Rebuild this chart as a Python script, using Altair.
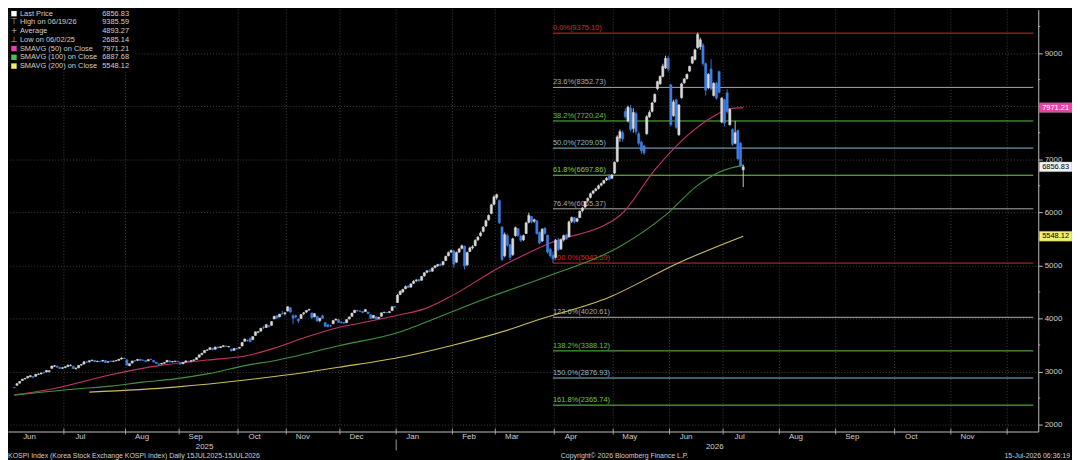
import altair as alt
import pandas as pd

FONT = "Liberation Sans"
BG = "#000000"
TXT = "#cfcfcf"
AXC = "#bdbdbd"
GRID = "#505050"
UP_COL = "#d9d9d9"
DOWN_COL = "#3e7fe4"

# ---------------- candles: (open, high, low, close) per trading day ----------------
JUN_2025 = [(2700, 2704, 2685.14, 2698), (2740, 2780, 2735, 2770), (2780, 2820, 2775, 2812),
            (2830, 2860, 2825, 2855), (2860, 2875, 2850, 2871), (2880, 2910, 2870, 2907),
            (2900, 2930, 2895, 2920), (2905, 2915, 2870, 2894), (2910, 2950, 2905, 2946),
            (2945, 2965, 2935, 2950), (2955, 2980, 2945, 2972), (2985, 2995, 2960, 2977),
            (2990, 3025, 2985, 3021), (3000, 3020, 2980, 3014), (3060, 3105, 3050, 3103),
            (3100, 3120, 3085, 3108), (3100, 3110, 3070, 3079), (3075, 3090, 3045, 3055),
            (3060, 3080, 3050, 3071)]
JUL_2025 = [(3075, 3100, 3060, 3089), (3090, 3135, 3085, 3116), (3110, 3135, 3100, 3116),
            (3100, 3105, 3050, 3054), (3050, 3080, 3040, 3059), (3070, 3120, 3060, 3114),
            (3120, 3140, 3110, 3133), (3140, 3190, 3135, 3183), (3180, 3200, 3165, 3175),
            (3180, 3210, 3170, 3202), (3205, 3220, 3195, 3215), (3210, 3215, 3180, 3187),
            (3185, 3205, 3180, 3192), (3195, 3200, 3175, 3188), (3195, 3215, 3190, 3210),
            (3205, 3210, 3160, 3170), (3175, 3195, 3170, 3184), (3195, 3205, 3180, 3190),
            (3190, 3205, 3180, 3196), (3200, 3215, 3195, 3209), (3210, 3235, 3205, 3230),
            (3235, 3266, 3225, 3254), (3250, 3265, 3235, 3245)]
AUG_2025 = [(3220, 3225, 3115, 3119), (3110, 3150, 3100, 3147), (3160, 3200, 3150, 3198),
            (3205, 3210, 3185, 3199), (3210, 3235, 3200, 3227), (3230, 3240, 3200, 3210),
            (3215, 3225, 3200, 3210), (3205, 3215, 3180, 3189), (3200, 3230, 3195, 3224),
            (3230, 3240, 3215, 3225), (3210, 3215, 3170, 3178), (3175, 3180, 3145, 3151),
            (3140, 3150, 3115, 3130), (3140, 3160, 3135, 3153), (3155, 3175, 3150, 3168),
            (3180, 3215, 3175, 3210), (3200, 3205, 3170, 3179), (3180, 3195, 3170, 3187),
            (3190, 3200, 3180, 3196), (3195, 3200, 3180, 3186)]
SEP_2025 = [(3170, 3175, 3135, 3142), (3145, 3175, 3140, 3172), (3180, 3205, 3170, 3200),
            (3195, 3200, 3175, 3184), (3190, 3210, 3185, 3205), (3210, 3225, 3200, 3219),
            (3225, 3265, 3220, 3260), (3270, 3320, 3265, 3314), (3320, 3350, 3305, 3344),
            (3355, 3400, 3350, 3395), (3400, 3415, 3390, 3407), (3415, 3450, 3410, 3449),
            (3440, 3445, 3400, 3413), (3420, 3465, 3415, 3461), (3460, 3470, 3435, 3445),
            (3450, 3470, 3440, 3468), (3470, 3490, 3460, 3486), (3480, 3485, 3460, 3472),
            (3465, 3480, 3455, 3471), (3420, 3430, 3380, 3386), (3400, 3440, 3395, 3431),
            (3435, 3445, 3415, 3424)]
OCT_2025 = [(3440, 3460, 3430, 3455), (3480, 3550, 3475, 3549), (3570, 3620, 3560, 3610),
            (3590, 3600, 3560, 3584), (3620, 3640, 3550, 3561), (3600, 3660, 3595, 3657),
            (3680, 3750, 3675, 3748), (3740, 3760, 3720, 3748), (3760, 3820, 3755, 3815),
            (3830, 3860, 3800, 3823), (3830, 3885, 3820, 3883), (3860, 3870, 3830, 3845),
            (3870, 3945, 3865, 3941), (3990, 4045, 3985, 4042), (4050, 4060, 3990, 4010),
            (4030, 4085, 4020, 4081), (4090, 4140, 4070, 4086), (4090, 4110, 4060, 4107)]
NOV_2025 = [(4140, 4226, 4130, 4221), (4200, 4210, 4100, 4121), (4050, 4080, 3890, 4004),
            (4050, 4070, 4000, 4026), (3990, 4000, 3910, 3953), (4000, 4080, 3990, 4073),
            (4090, 4120, 4060, 4106), (4120, 4155, 4100, 4150), (4160, 4180, 4140, 4170),
            (4100, 4110, 3990, 4011), (4030, 4100, 4020, 4089), (4040, 4050, 3940, 3953),
            (3960, 4010, 3930, 4004), (4050, 4070, 3990, 4004), (3920, 3930, 3840, 3853),
            (3880, 3890, 3830, 3846), (3860, 3880, 3840, 3857), (3900, 3965, 3895, 3960),
            (3970, 3995, 3960, 3986), (3975, 3985, 3915, 3926)]
DEC_2025 = [(3930, 3950, 3900, 3920), (3925, 3935, 3895, 3914), (3920, 3985, 3915, 3977),
            (3990, 4035, 3980, 4028), (4040, 4105, 4030, 4100), (4110, 4160, 4100, 4154),
            (4150, 4165, 4125, 4143), (4140, 4150, 4120, 4135), (4130, 4140, 4100, 4110),
            (4130, 4175, 4125, 4167), (4120, 4125, 4080, 4090), (4070, 4080, 3990, 3999),
            (4010, 4065, 4000, 4056), (4030, 4040, 3980, 3994), (4000, 4030, 3990, 4020),
            (4040, 4110, 4035, 4105), (4110, 4125, 4100, 4117), (4115, 4120, 4100, 4108),
            (4110, 4135, 4105, 4129), (4150, 4225, 4145, 4220), (4225, 4235, 4200, 4214)]
JAN_2026 = [(4300, 4460, 4290, 4440), (4450, 4530, 4440, 4510), (4500, 4560, 4480, 4545),
            (4560, 4620, 4550, 4600), (4610, 4630, 4570, 4585), (4590, 4660, 4580, 4650),
            (4660, 4720, 4650, 4700), (4710, 4740, 4690, 4725), (4730, 4745, 4690, 4705),
            (4720, 4800, 4710, 4790), (4800, 4870, 4790, 4860), (4870, 4910, 4850, 4895),
            (4900, 4930, 4870, 4885), (4890, 4960, 4880, 4950), (4960, 5000, 4940, 4990),
            (4990, 5030, 4970, 5015), (5020, 5040, 4980, 5000), (5010, 5080, 5000, 5070),
            (5090, 5180, 5080, 5170), (5180, 5260, 5170, 5240), (5250, 5300, 5230, 5280)]
FEB_2026 = [(5270, 5290, 4955, 5020), (5060, 5260, 5050, 5240), (5250, 5330, 5230, 5310),
            (5320, 5390, 5300, 5370), (5360, 5370, 4920, 4990), (5010, 5260, 4990, 5240),
            (5260, 5350, 5250, 5330), (5330, 5380, 5300, 5350), (5370, 5490, 5360, 5470),
            (5480, 5550, 5460, 5530), (5560, 5640, 5540, 5610), (5640, 5740, 5620, 5720),
            (5740, 5860, 5720, 5840), (5860, 5960, 5840, 5940), (5980, 6160, 5960, 6140),
            (6150, 6320, 6130, 6290)]
MAR_2026 = [(6280, 6352, 6240, 6330), (6220, 6240, 5780, 5800), (5720, 5740, 5080, 5110),
            (5180, 5620, 5150, 5580), (5560, 5600, 5350, 5380), (5390, 5400, 5100, 5150),
            (5200, 5520, 5180, 5500), (5560, 5730, 5540, 5710), (5690, 5700, 5540, 5560),
            (5550, 5580, 5440, 5470), (5480, 5580, 5460, 5560), (5600, 5820, 5590, 5800),
            (5810, 5990, 5790, 5940), (5920, 5930, 5790, 5820), (5830, 5880, 5800, 5860),
            (5840, 5850, 5580, 5600), (5620, 5640, 5400, 5420), (5460, 5700, 5440, 5680),
            (5700, 5720, 5580, 5600), (5570, 5580, 5220, 5250), (5300, 5330, 5150, 5180),
            (5190, 5260, 5042.59, 5120)]
APR_2026 = [(5150, 5500, 5130, 5470), (5470, 5520, 5270, 5300), (5310, 5500, 5290, 5480),
            (5480, 5580, 5450, 5560), (5570, 5600, 5480, 5500), (5540, 5840, 5530, 5820),
            (5830, 5920, 5800, 5900), (5900, 5910, 5790, 5820), (5830, 5900, 5810, 5880),
            (5900, 6030, 5890, 6020), (6030, 6100, 6000, 6080), (6100, 6210, 6080, 6200),
            (6220, 6280, 6200, 6260), (6280, 6370, 6260, 6350), (6360, 6420, 6340, 6400),
            (6410, 6460, 6390, 6440), (6450, 6520, 6430, 6500), (6510, 6560, 6490, 6540),
            (6550, 6610, 6530, 6600), (6610, 6660, 6590, 6640), (6690, 6720, 6600, 6620),
            (6640, 6720, 6630, 6700)]
MAY_2026 = [(6740, 6960, 6720, 6940), (6960, 7450, 6940, 7420), (7400, 7560, 7330, 7520),
            (7500, 7540, 7330, 7380), (7900, 7960, 7760, 7800), (7720, 8010, 7690, 7980),
            (7960, 8020, 7520, 7560), (7580, 7960, 7500, 7880), (7860, 7900, 7470, 7520),
            (7480, 7520, 7260, 7300), (7320, 7350, 7100, 7160), (7250, 7270, 7080, 7120),
            (7480, 7830, 7460, 7800), (7800, 7920, 7780, 7880), (7900, 8080, 7880, 8060),
            (8080, 8240, 8060, 8220), (8330, 8480, 8300, 8460), (8420, 8580, 8400, 8560),
            (8560, 8800, 8540, 8750), (8720, 8950, 8700, 8900), (8900, 8950, 8650, 8700)]
JUN_2026 = [(8400, 8420, 7620, 7650), (7820, 8120, 7800, 8080), (8120, 8140, 7570, 7600),
            (7460, 8040, 7440, 8020), (8160, 8440, 8140, 8420), (8440, 8530, 8420, 8510),
            (8520, 8610, 8500, 8600), (8660, 8760, 8640, 8750), (8810, 8940, 8790, 8930),
            (8880, 9080, 8860, 9060), (9100, 9385.59, 9080, 9350), (9120, 9290, 9060, 9250),
            (9150, 9190, 8760, 8800), (8800, 8820, 8200, 8300), (8350, 8620, 8320, 8600),
            (8700, 8880, 8300, 8330), (8200, 8450, 8180, 8430), (8430, 8460, 8120, 8150),
            (8650, 8670, 8240, 8260), (7700, 8170, 7680, 8150)]
JUL_2026 = [(8120, 8140, 7620, 7680), (8250, 8320, 7860, 7900), (7650, 7960, 7630, 7940),
            (7560, 7580, 7250, 7280), (7300, 7720, 7280, 7500), (7540, 7560, 6980, 7010),
            (7300, 7320, 6850, 6880), (6800, 6900, 6475, 6856.83)]
CANDLE_MONTHS = [JUN_2025, JUL_2025, AUG_2025, SEP_2025, OCT_2025, NOV_2025, DEC_2025,
                 JAN_2026, FEB_2026, MAR_2026, APR_2026, MAY_2026, JUN_2026, JUL_2026]

# ---------------- moving averages: (trading-day index, value) ----------------
MA50 = [(0, 2560), (12, 2650), (36, 2940), (54, 3110), (72, 3215), (87, 3300), (97, 3440),
        (109, 3650), (121, 3830), (133, 3950), (143, 4060), (153, 4180), (163, 4420),
        (181, 4960), (199, 5400), (226, 5940), (239, 6800), (251, 7440), (261, 7810),
        (267, 7950), (272, 7971.21)]
MA100 = [(0, 2555), (24, 2674), (36, 2724), (48, 2800), (60, 2861), (72, 2955), (87, 3120),
         (97, 3203), (121, 3484), (145, 3764), (150, 3858), (175, 4357), (199, 4793),
         (226, 5354), (243, 5946), (255, 6507), (263, 6756), (272, 6887.68)]
MA200 = [(28, 2612), (60, 2706), (87, 2843), (109, 2986), (121, 3080), (145, 3279),
         (164, 3500), (187, 3828), (193, 3933), (222, 4400), (248, 5050), (272, 5548.12)]
MA_COLORS = ["#c2336f", "#3f9440", "#cdbf5a"]

# ---------------- axis: months (trading days per month on the axis) ----------------
MONTH_NAMES = ["Jun", "Jul", "Aug", "Sep", "Oct", "Nov", "Dec", "Jan", "Feb", "Mar", "Apr",
               "May", "Jun", "Jul", "Aug", "Sep", "Oct", "Nov"]
MONTH_SLOTS = [19, 23, 20, 22, 18, 20, 21, 21, 16, 22, 22, 21, 20, 21, 21, 22, 21, 21]
YEARS = ["2025", "2026"]
YEAR_FIRST_MONTH = [0, 7]
Y_TICKS = [2000, 3000, 4000, 5000, 6000, 7000, 8000, 9000]
Y_HIDDEN_LABEL = 8000          # covered by the SMAVG(50) price tag in the reference
Y_MINOR = [2500, 3500, 4500, 5500, 6500, 7500, 8500, 9500]

# ---------------- Fibonacci retracement ----------------
FIB_PCT = ["0.0%", "23.6%", "38.2%", "50.0%", "61.8%", "76.4%", "100.0%", "123.6%",
           "138.2%", "150.0%", "161.8%"]
FIB_VAL = [9375.10, 8352.73, 7720.24, 7209.05, 6697.86, 6065.37, 5042.59, 4020.61,
           3388.12, 2876.93, 2365.74]
FIB_COLOR = ["#c8302c", "#a8a8a8", "#5cc043", "#86bcd6", "#7fd04c", "#a8a8a8", "#d42a2a",
             "#a8a8a8", "#5cc043", "#86bcd6", "#6cc848"]

# ---------------- legend ----------------
LEG_LABELS = ["Last Price", "High on 06/19/26", "Average", "Low on 06/02/25",
              "SMAVG (50)  on Close", "SMAVG (100)  on Close", "SMAVG (200)  on Close"]
LEG_VALUES = ["6856.83", "9385.59", "4893.27", "2685.14", "7971.21", "6887.68", "5548.12"]
LEG_SYMBOL = ["sq", "\u22a4", "+", "\u22a5", "sq", "sq", "sq"]
LEG_SYMCOL = ["#ffffff", "#bdbdbd", "#bdbdbd", "#bdbdbd", "#e83fb0", "#4cc24c", "#f2ee6a"]

TAG_VALUES = [7971.21, 6856.83, 5548.12]
TAG_FILL = ["#e645a8", "#f2f2f2", "#f3ee6e"]
TAG_TEXT = ["#ffffff", "#000000", "#000000"]

# ---------------- build tables ----------------
rows = []
for month in CANDLE_MONTHS:
    for o, h, l, c in month:
        rows.append({"slot": len(rows), "open": o, "high": h, "low": l, "close": c,
                     "col": UP_COL if c >= o else DOWN_COL})
candles = pd.DataFrame(rows)

starts = [0]
for n in MONTH_SLOTS:
    starts.append(starts[-1] + n)
X_DOMAIN = [-0.5, 380.25]
Y_DOMAIN = [1869, 9817]
W, H = 1038, 425

bounds = pd.DataFrame({"b": [s - 0.5 for s in starts[1:]]})
label_pos = [s + 5.5 for s in starts[:-1]]
label_expr = ("[" + ",".join("'%s'" % m for m in MONTH_NAMES) + "][indexof(["
              + ",".join(str(p) for p in label_pos) + "], datum.value)]")
year_edges = [X_DOMAIN[0]] + [starts[i] - 0.5 for i in YEAR_FIRST_MONTH[1:]] + [X_DOMAIN[1]]
years = pd.DataFrame({"pos": [(year_edges[i] + year_edges[i + 1]) / 2 for i in range(len(YEARS))],
                      "txt": YEARS})
year_sep = pd.DataFrame({"b": [starts[i] - 0.5 for i in YEAR_FIRST_MONTH[1:]]})

fib_start = int(candles.loc[(candles["low"] - FIB_VAL[6]).abs().idxmin(), "slot"])
fib = pd.DataFrame({"val": FIB_VAL, "col": FIB_COLOR,
                    "label": ["%s(%.2f)" % (p, v) for p, v in zip(FIB_PCT, FIB_VAL)]})
fib["x0"] = fib_start
fib["x1"] = X_DOMAIN[1]

ma_rows = []
for name, pts, col in zip(["50", "100", "200"], [MA50, MA100, MA200], MA_COLORS):
    for s, v in pts:
        ma_rows.append({"series": name, "slot": s, "val": v, "col": col})
ma = pd.DataFrame(ma_rows)

tags = pd.DataFrame({"val": TAG_VALUES, "fill": TAG_FILL, "tc": TAG_TEXT,
                     "label": ["%.2f" % v for v in TAG_VALUES]})
minor = pd.DataFrame({"v": Y_MINOR})

# ---------------- scales / axes ----------------
xs = alt.Scale(domain=X_DOMAIN, nice=False, zero=False)
ys = alt.Scale(domain=Y_DOMAIN, nice=False, zero=False)
xaxis = alt.Axis(values=label_pos, labelExpr=label_expr, title=None, grid=False, ticks=False,
                 tickSize=0, domain=True, domainColor=AXC, domainWidth=1, labelPadding=1,
                 labelFontSize=8, labelColor=TXT, labelFont=FONT, labelOverlap=False,
                 labelFlush=False, labelBound=False)
yaxis = alt.Axis(orient="right", values=Y_TICKS, title=None, grid=True, gridColor=GRID,
                 gridDash=[1, 2], gridWidth=0.8, tickSize=4, tickColor=AXC, domainColor=AXC,
                 labelPadding=2, labelFontSize=8, labelColor=TXT, labelFont=FONT, format="d",
                 labelExpr="datum.value == %d ? '' : datum.label" % Y_HIDDEN_LABEL)

X = lambda f: alt.X(f, scale=xs, axis=xaxis)
Y = lambda f: alt.Y(f, scale=ys, axis=yaxis)
one = pd.DataFrame({"a": [0]})

layers = []
layers.append(alt.Chart(bounds).mark_rule(color=GRID, strokeDash=[1, 2], strokeWidth=0.8)
              .encode(x=X("b:Q")))
layers.append(alt.Chart(fib).mark_rule(strokeWidth=1)
              .encode(x=X("x0:Q"), x2="x1:Q", y=Y("val:Q"), color=alt.Color("col:N", scale=None)))
layers.append(alt.Chart(fib).mark_text(align="left", baseline="bottom", dy=-1, fontSize=7.5,
                                       font=FONT)
              .encode(x=X("x0:Q"), y=Y("val:Q"), text="label:N",
                      color=alt.Color("col:N", scale=None)))
layers.append(alt.Chart(ma).mark_line(strokeWidth=1.1, interpolate="monotone")
              .encode(x=X("slot:Q"), y=Y("val:Q"), detail="series:N",
                      color=alt.Color("col:N", scale=None), order="slot:Q"))
layers.append(alt.Chart(candles).mark_rule(strokeWidth=0.9)
              .encode(x=X("slot:Q"), y=Y("low:Q"), y2="high:Q",
                      color=alt.Color("col:N", scale=None)))
layers.append(alt.Chart(candles).mark_bar(size=2.2, strokeWidth=0.5)
              .encode(x=X("slot:Q"), y=Y("open:Q"), y2="close:Q",
                      color=alt.Color("col:N", scale=None), stroke=alt.Stroke("col:N", scale=None)))
# axis decorations
layers.append(alt.Chart(bounds).mark_rule(color=AXC, strokeWidth=0.8)
              .encode(x=X("b:Q"), y=alt.value(H - 3), y2=alt.value(H + 3)))
layers.append(alt.Chart(year_sep).mark_rule(color=AXC, strokeWidth=0.8)
              .encode(x=X("b:Q"), y=alt.value(H + 8), y2=alt.value(H + 19)))
layers.append(alt.Chart(minor).mark_rule(color=AXC, strokeWidth=0.8)
              .encode(y=Y("v:Q"), x=alt.value(W), x2=alt.value(W + 2)))
layers.append(alt.Chart(years).mark_text(fontSize=8, font=FONT, color=TXT, baseline="middle")
              .encode(x=X("pos:Q"), y=alt.value(H + 16), text="txt:N"))
# price tags on the right axis
TAG_SHAPE = "M-1,-0.3L1,-0.3L1,0.3L-1,0.3Z"
layers.append(alt.Chart(tags).mark_point(shape=TAG_SHAPE, size=33 * 33, filled=True, opacity=1,
                                         stroke="#888888", strokeWidth=0.4)
              .encode(x=alt.value(W + 17.5), y=Y("val:Q"), color=alt.Color("fill:N", scale=None)))
layers.append(alt.Chart(tags).mark_text(fontSize=7.5, font=FONT, baseline="middle", align="center")
              .encode(x=alt.value(W + 17.5), y=Y("val:Q"), text="label:N",
                      color=alt.Color("tc:N", scale=None)))
# legend box
layers.append(alt.Chart(one).mark_rect(color=BG)
              .encode(x=alt.value(0), x2=alt.value(127), y=alt.value(0), y2=alt.value(61)))
layers.append(alt.Chart(one).mark_rule(color="#5a5a5a", strokeDash=[1, 1], strokeWidth=0.8)
              .encode(x=alt.value(1), x2=alt.value(1), y=alt.value(2), y2=alt.value(57)))
for i, (lab, val, sym, scol) in enumerate(zip(LEG_LABELS, LEG_VALUES, LEG_SYMBOL, LEG_SYMCOL)):
    yy = 4 + i * 8.8
    layers.append(alt.Chart(one).mark_text(align="left", baseline="middle", fontSize=7.5,
                                           font=FONT, color=TXT)
                  .encode(x=alt.value(12), y=alt.value(yy), text=alt.value(lab)))
    layers.append(alt.Chart(one).mark_text(align="right", baseline="middle", fontSize=7.5,
                                           font=FONT, color=TXT)
                  .encode(x=alt.value(122), y=alt.value(yy), text=alt.value(val)))
    if sym == "sq":
        layers.append(alt.Chart(one).mark_point(shape="square", filled=True, size=30, opacity=1,
                                                color=scol)
                      .encode(x=alt.value(6), y=alt.value(yy)))
    else:
        layers.append(alt.Chart(one).mark_text(align="center", baseline="middle", fontSize=8,
                                               font="DejaVu Sans", color=scol)
                      .encode(x=alt.value(6), y=alt.value(yy), text=alt.value(sym)))
# footer
FOOT_Y = H + 24.5
layers.append(alt.Chart(one).mark_text(align="left", baseline="middle", fontSize=7, font=FONT,
                                       color=TXT)
              .encode(x=alt.value(0), y=alt.value(FOOT_Y),
                      text=alt.value("KOSPI Index (Korea Stock Exchange KOSPI Index) Daily 15JUL2025-15JUL2026")))
layers.append(alt.Chart(one).mark_text(align="left", baseline="middle", fontSize=7, font=FONT,
                                       color=TXT)
              .encode(x=alt.value(557), y=alt.value(FOOT_Y),
                      text=alt.value("Copyright\u00a9 2026 Bloomberg Finance L.P.")))
layers.append(alt.Chart(one).mark_text(align="right", baseline="middle", fontSize=7, font=FONT,
                                       color=TXT)
              .encode(x=alt.value(W + 32), y=alt.value(FOOT_Y),
                      text=alt.value("15-Jul-2026 06:36:19")))

chart = (alt.layer(*layers)
         .properties(width=W, height=H, autosize=alt.AutoSizeParams(type="none"),
                     padding={"left": 0, "top": 0, "right": 34, "bottom": 28}, background=BG)
         .configure_view(stroke=None, fill=BG))

chart.save("out.html", embed_options={"renderer": "svg", "actions": False})
